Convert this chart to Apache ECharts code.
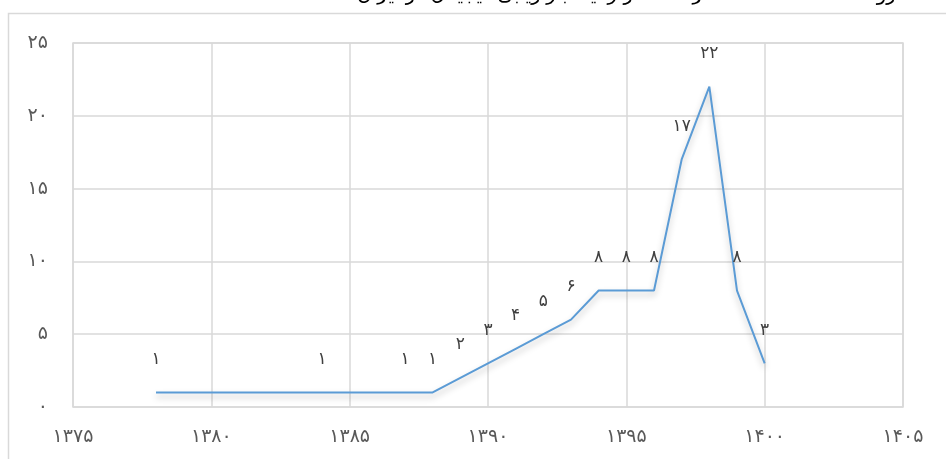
<!DOCTYPE html>
<html>
<head>
<meta charset="utf-8">
<script src="https://cdn.jsdelivr.net/npm/echarts@6/dist/echarts.min.js"></script>
<style>
  html, body { margin: 0; padding: 0; background: #fff; }
  #chart { width: 946px; height: 459px; }
</style>
</head>
<body>
<div id="chart"></div>
<script>
  // داده‌ها
  const years = [1378, 1384, 1387, 1388, 1389, 1390, 1391, 1392, 1393, 1394, 1395, 1396, 1397, 1398, 1399, 1400]
  const counts = [1, 1, 1, 1, 2, 3, 4, 5, 6, 8, 8, 8, 17, 22, 8, 3]
  const titleText = 'روند تعداد مقالات منتشر شده در زمینه بازاریابی دیجیتال در ایران'

  // تبدیل ارقام به فارسی
  const faDigits = '۰۱۲۳۴۵۶۷۸۹'
  const toFa = v => String(v).replace(/[0-9]/g, d => faDigits[d])

  const chart = echarts.init(document.getElementById('chart'))
  const font = 'DejaVu Sans'

  const option = {
    animation: false,
    textStyle: { fontFamily: font },
    title: {
      text: titleText,
      right: 45,
      top: -20,
      textStyle: { fontSize: 20, fontWeight: 'normal', color: '#000', fontFamily: font }
    },
    graphic: [{
      type: 'rect',
      shape: { x: 8.5, y: 13.5, width: 1000, height: 500 },
      style: { fill: 'none', stroke: '#d9d9d9', lineWidth: 1.5 },
      silent: true
    }],
    grid: {
      left: 73,
      right: 43,
      top: 43,
      bottom: 52,
      show: true,
      borderColor: '#d9d9d9',
      borderWidth: 1.5
    },
    xAxis: {
      type: 'value',
      min: 1375,
      max: 1405,
      interval: 5,
      axisLine: { show: false },
      axisTick: { show: false },
      splitLine: { lineStyle: { color: '#d9d9d9', width: 1.5 } },
      axisLabel: {
        formatter: v => toFa(v),
        margin: 21,
        color: '#595959',
        fontSize: 19,
        fontFamily: font
      }
    },
    yAxis: {
      type: 'value',
      min: 0,
      max: 25,
      interval: 5,
      axisLine: { show: false },
      axisTick: { show: false },
      splitLine: { lineStyle: { color: '#d9d9d9', width: 1.5 } },
      axisLabel: {
        formatter: v => toFa(v),
        margin: 25,
        color: '#595959',
        fontSize: 19,
        fontFamily: font
      }
    },
    series: [{
      type: 'line',
      data: years.map((y, i) => [y, counts[i]]),
      symbol: 'circle',
      symbolSize: 1,
      showSymbol: true,
      itemStyle: { color: 'rgba(0,0,0,0)', borderWidth: 0 },
      lineStyle: {
        color: '#5b9bd5',
        width: 2,
        shadowColor: 'rgba(0,0,0,0.25)',
        shadowBlur: 6,
        shadowOffsetY: 4
      },
      labelLayout: { hideOverlap: false },
      label: {
        show: true,
        position: 'top',
        distance: 24,
        formatter: p => toFa(p.value[1]),
        color: '#404040',
        fontSize: 17,
        fontFamily: font
      }
    }]
  }

  chart.setOption(option)
</script>
</body>
</html>
